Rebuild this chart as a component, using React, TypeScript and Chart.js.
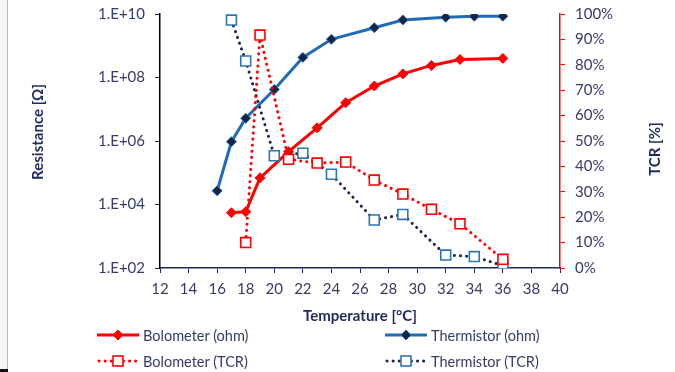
import React, { useEffect, useRef } from "react";
import { Chart, registerables } from "chart.js";

Chart.register(...registerables);

const boloTemp = [17, 18, 19, 21, 23, 25, 27, 29, 31, 33, 36];
const boloOhm = [5.5e3, 5.9e3, 6.9e4, 4.6e5, 2.6e6, 1.6e7, 5.4e7, 1.3e8, 2.4e8, 3.7e8, 4.0e8];
const thermTemp = [16, 17, 18, 20, 22, 24, 27, 29, 32, 34, 36];
const thermOhm = [2.7e4, 9.5e5, 5.2e6, 4.2e7, 4.3e8, 1.6e9, 3.7e9, 6.5e9, 7.9e9, 8.5e9, 8.5e9];
const boloTcrTemp = [18, 19, 21, 23, 25, 27, 29, 31, 33, 36];
const boloTcr = [10, 91.7, 42.8, 41.3, 41.7, 34.6, 29.1, 23.1, 17.4, 3.4];
const thermTcrTemp = [17, 18, 20, 22, 24, 27, 29, 32, 34, 36];
const thermTcr = [97.6, 81.5, 44.2, 45.2, 36.9, 18.9, 21.1, 5.1, 4.5, 0.9];
const leftTickExponents = [2, 4, 6, 8, 10];
const seriesNames = ["Bolometer (ohm)", "Thermistor (ohm)", "Bolometer (TCR)", "Thermistor (TCR)"];

const FONT = "Lato, 'Open Sans', sans-serif";
const TICK_COLOR = "#333D68";
const TITLE_COLOR = "#1F2A5C";
const RED = "#FF0000";
const BLUE = "#1F6CB5";
const NAVY_DOT = "#1B2452";
const SQ_BLUE = "#2E75B6";

const zip = (xs: number[], ys: number[]) => xs.map((x, i) => ({ x, y: ys[i] }));

const titlesPlugin = {
  id: "yTitles",
  afterDraw(chart: any) {
    const { ctx } = chart;
    ctx.save();
    ctx.fillStyle = TITLE_COLOR;
    ctx.font = `bold 15px ${FONT}`;
    ctx.textAlign = "center";
    ctx.textBaseline = "middle";
    ctx.translate(38, 132);
    ctx.rotate(-Math.PI / 2);
    ctx.fillText("Resistance [Ω]", 0, 0);
    ctx.restore();
    ctx.save();
    ctx.fillStyle = TITLE_COLOR;
    ctx.font = `bold 15px ${FONT}`;
    ctx.textAlign = "center";
    ctx.textBaseline = "middle";
    ctx.translate(655, 149);
    ctx.rotate(-Math.PI / 2);
    ctx.fillText("TCR [%]", 0, 0);
    ctx.restore();
  },
};

function LegendIcon({ kind }: { kind: number }) {
  if (kind === 0 || kind === 1) {
    const c = kind === 0 ? RED : BLUE;
    const f = kind === 0 ? RED : "#1C2340";
    return (
      <svg width="42" height="12" style={{ display: "block" }}>
        <line x1="0" y1="6" x2="42" y2="6" stroke={c} strokeWidth="3" />
        <polygon points="21,1 26,6 21,11 16,6" fill={f} stroke={c} strokeWidth="1" />
      </svg>
    );
  }
  const lc = kind === 2 ? RED : NAVY_DOT;
  const sc = kind === 2 ? RED : SQ_BLUE;
  return (
    <svg width="42" height="14" style={{ display: "block" }}>
      <line x1="2" y1="7" x2="40" y2="7" stroke={lc} strokeWidth="3" strokeDasharray="0.1 6" strokeLinecap="round" />
      <rect x="16" y="2" width="10" height="10" fill="#fff" stroke={sc} strokeWidth="1.6" />
    </svg>
  );
}

export default function App() {
  const ref = useRef<HTMLCanvasElement | null>(null);

  useEffect(() => {
    if (!ref.current) return;
    const chart = new Chart(ref.current, {
      type: "line",
      data: {
        datasets: [
          {
            label: seriesNames[2],
            data: zip(boloTcrTemp, boloTcr),
            yAxisID: "y1",
            borderColor: RED,
            borderWidth: 3,
            borderDash: [0.1, 6],
            borderCapStyle: "round",
            pointStyle: "rect",
            pointRadius: 7,
            pointBorderWidth: 1.6,
            pointBorderColor: RED,
            pointBackgroundColor: "#fff",
            fill: false,
          },
          {
            label: seriesNames[3],
            data: zip(thermTcrTemp, thermTcr),
            yAxisID: "y1",
            borderColor: NAVY_DOT,
            borderWidth: 3,
            borderDash: [0.1, 6],
            borderCapStyle: "round",
            pointStyle: "rect",
            pointRadius: 7,
            pointBorderWidth: 1.6,
            pointBorderColor: SQ_BLUE,
            pointBackgroundColor: "#fff",
            fill: false,
          },
          {
            label: seriesNames[0],
            data: zip(boloTemp, boloOhm),
            yAxisID: "y",
            borderColor: RED,
            borderWidth: 3,
            pointStyle: "rectRot",
            pointRadius: 5,
            pointBorderWidth: 1,
            pointBorderColor: RED,
            pointBackgroundColor: RED,
            fill: false,
          },
          {
            label: seriesNames[1],
            data: zip(thermTemp, thermOhm),
            yAxisID: "y",
            borderColor: BLUE,
            borderWidth: 3,
            pointStyle: "rectRot",
            pointRadius: 5,
            pointBorderWidth: 1,
            pointBorderColor: BLUE,
            pointBackgroundColor: "#1C2340",
            fill: false,
          },
        ],
      },
      options: {
        animation: false,
        responsive: false,
        maintainAspectRatio: false,
        layout: { padding: { top: 14, left: 0, right: 0, bottom: 0 } },
        plugins: { legend: { display: false }, tooltip: { enabled: false } },
        scales: {
          x: {
            type: "linear",
            min: 12,
            max: 40,
            afterFit: (s: any) => {
              s.height = 104;
              s.paddingLeft = 0;
              s.paddingRight = 0;
            },
            ticks: { stepSize: 2, color: TICK_COLOR, font: { family: FONT, size: 15 }, padding: 7 },
            grid: { drawOnChartArea: false, drawTicks: true, tickLength: 5, tickColor: TITLE_COLOR },
            border: { display: true, color: TITLE_COLOR, width: 1.5 },
            title: {
              display: true,
              text: "Temperature [°C]",
              color: TITLE_COLOR,
              font: { family: FONT, size: 15, weight: "bold" },
              padding: { top: 4, bottom: 47 },
            },
          },
          y: {
            type: "logarithmic",
            position: "left",
            min: 100,
            max: 1e10,
            afterFit: (s: any) => {
              s.width = 160;
              s.paddingTop = 0;
              s.paddingBottom = 0;
            },
            afterBuildTicks: (s: any) => {
              s.ticks = leftTickExponents.map((e) => ({ value: Math.pow(10, e) }));
            },
            ticks: {
              color: TICK_COLOR,
              font: { family: FONT, size: 15 },
              padding: 10,
              autoSkip: false,
              callback: (v: any) => {
                const e = Math.round(Math.log10(Number(v)));
                return "1.E+" + String(e).padStart(2, "0");
              },
            },
            grid: { drawOnChartArea: false, drawTicks: true, tickLength: 5, tickColor: TITLE_COLOR },
            border: { display: true, color: "#000", width: 1.5 },
          },
          y1: {
            type: "linear",
            position: "right",
            min: 0,
            max: 100,
            afterFit: (s: any) => {
              s.width = 115;
              s.paddingTop = 0;
              s.paddingBottom = 0;
            },
            ticks: {
              stepSize: 10,
              color: TICK_COLOR,
              font: { family: FONT, size: 15 },
              padding: 10,
              callback: (v: any) => v + "%",
            },
            grid: { drawOnChartArea: false, drawTicks: true, tickLength: 5, tickColor: RED },
            border: { display: true, color: RED, width: 1.5 },
          },
        },
      },
      plugins: [titlesPlugin],
    } as any);
    return () => chart.destroy();
  }, []);

  const legendItems = [
    { kind: 0, left: 97, top: 327 },
    { kind: 1, left: 385, top: 327 },
    { kind: 2, left: 97, top: 353 },
    { kind: 3, left: 385, top: 353 },
  ];

  return (
    <div style={{ position: "absolute", left: 0, top: 0, width: 675, height: 372, background: "#fff", overflow: "hidden" }}>
      <canvas ref={ref} width={675} height={372} style={{ position: "absolute", left: 0, top: 0 }} />
      <div style={{ position: "absolute", left: 0, top: 0, width: 7, height: 372, background: "#f7f7f7" }} />
      <div style={{ position: "absolute", left: 7, top: 0, width: 1, height: 372, background: "#b8b8b8" }} />
      <div style={{ position: "absolute", left: 0, top: 369, width: 8, height: 3, background: "#111" }} />
      {legendItems.map((it) => (
        <div
          key={it.kind}
          style={{
            position: "absolute",
            left: it.left,
            top: it.top,
            height: 16,
            display: "flex",
            alignItems: "center",
            gap: 4,
            fontFamily: FONT,
            fontSize: 14.5,
            color: TICK_COLOR,
            whiteSpace: "nowrap",
          }}
        >
          <LegendIcon kind={it.kind} />
          <span>{seriesNames[it.kind]}</span>
        </div>
      ))}
    </div>
  );
}
